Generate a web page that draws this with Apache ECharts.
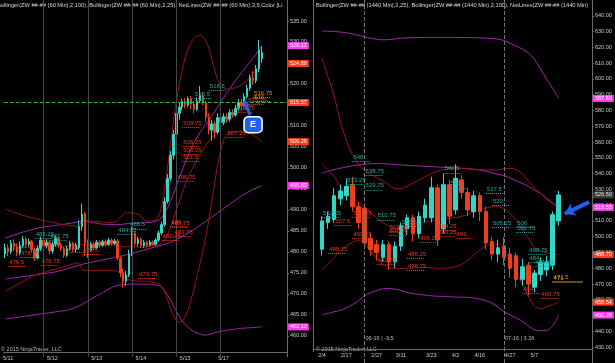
<!DOCTYPE html>
<html><head><meta charset="utf-8">
<script src="https://cdn.jsdelivr.net/npm/echarts@6.0.0/dist/echarts.min.js"></script>
<style>html,body{margin:0;padding:0;background:#000}#c{width:615px;height:363px}</style>
</head><body><div id="c"></div>
<script>
// ---------------- LEFT PANEL (60 min) ----------------
const leftTicks = ['5/11','5/12','5/13','5/14','5/15','5/17'];
const leftTickBars = [1,16,31,46,61,74];
const leftSessionBars = [13,28,43,58,73];
// [open, close, low, high]
const leftOHLC = [
[479.5,481.0,478.5,482.0],[481.0,480.0,479.0,481.8],[480.0,482.0,479.5,482.8],[482.0,481.2,480.2,483.0],[481.2,479.8,479.0,482.0],
[479.8,481.5,479.2,482.5],[481.5,483.0,481.0,483.8],[483.0,481.8,481.0,483.5],[481.8,482.5,481.2,483.2],[482.5,480.5,479.8,482.8],
[480.5,478.5,477.8,481.0],[478.5,480.8,478.2,481.5],[480.8,482.8,480.2,483.6],[482.8,481.5,481.0,483.3],[481.5,482.3,480.8,483.0],
[482.3,480.2,479.5,482.6],[480.2,481.8,479.6,482.4],[481.8,483.2,481.2,483.8],[483.2,481.6,481.0,483.5],[481.6,480.8,480.2,482.2],
[480.8,479.2,478.6,481.2],[479.2,480.8,478.8,481.4],[480.8,482.0,480.2,482.6],[482.0,480.6,480.0,482.4],[480.6,481.5,479.8,482.2],
[481.0,486.0,480.5,487.5],[486.0,489.0,485.0,491.5],[489.0,482.0,479.0,489.5],[482.0,480.5,478.5,483.0],[480.5,481.8,480.0,482.4],
[481.8,481.0,480.4,482.3],[481.0,482.3,480.6,482.8],[482.3,481.6,481.0,482.8],[481.6,482.4,481.2,482.9],[482.4,481.8,481.3,483.0],
[481.8,482.8,481.5,483.3],[482.8,482.0,481.5,483.2],[482.0,482.6,481.6,483.1],[482.6,478.5,478.0,483.0],[478.5,475.0,474.0,479.0],
[475.0,473.0,471.5,476.0],[473.0,474.5,472.0,475.5],[474.5,479.5,474.0,480.5],[479.5,484.5,479.0,486.0],[484.5,482.0,481.5,485.0],
[482.0,483.0,481.3,483.6],[483.0,481.5,481.0,483.4],[481.5,482.2,481.0,482.8],[482.2,481.6,481.2,482.6],[481.6,482.3,481.3,482.8],
[482.3,481.8,481.4,482.7],[481.8,482.8,481.5,483.3],[482.8,484.5,482.4,485.0],[484.5,486.5,484.0,487.2],[486.5,492.0,486.0,493.0],
[492.0,497.5,491.5,498.5],[497.5,503.0,496.8,504.0],[503.0,508.0,502.0,509.0],[508.0,513.0,506.5,514.0],[513.0,514.5,511.5,515.5],
[514.5,515.8,513.8,516.5],[515.8,515.0,514.2,516.6],[515.0,516.5,514.5,517.0],[516.5,515.2,514.0,517.2],[515.2,514.0,513.0,516.0],
[514.0,516.0,513.6,516.8],[516.0,517.2,515.4,519.5],[517.2,515.5,515.0,518.0],[515.5,512.0,511.0,516.0],[512.0,509.0,508.0,513.0],
[509.0,510.5,506.5,511.5],[510.5,508.5,507.0,511.2],[508.5,512.0,508.0,513.0],[512.0,510.8,510.0,513.2],[510.8,512.2,510.2,513.0],
[512.2,511.6,510.8,513.0],[511.6,513.2,511.0,514.0],[513.2,512.6,512.0,514.0],[512.6,514.2,512.2,515.0],[514.2,515.6,513.6,516.4],
[515.6,514.8,514.0,516.5],[514.8,517.0,514.3,517.8],[517.0,519.0,516.5,519.8],[519.0,521.5,518.4,522.2],[521.5,520.8,519.8,523.0],
[520.8,523.6,520.2,524.5],[523.6,528.0,522.8,530.5],[526.0,527.5,525.0,529.0]
];
const leftBB100Upper = [483.3,483.5,483.8,484.0,484.2,484.5,484.7,484.9,485.1,485.3,
485.5,485.6,485.8,485.9,486.0,486.1,486.2,486.3,486.4,486.5,
486.6,486.7,486.8,486.9,487.0,487.2,487.4,487.4,487.2,487.0,
486.9,486.8,486.7,486.6,486.6,486.5,486.5,486.5,486.5,486.5,
486.6,486.7,486.8,486.8,486.8,486.8,486.9,486.9,487.0,487.0,
487.1,487.3,487.6,488.2,489.2,490.5,492.0,493.8,495.7,497.6,
499.5,501.3,503.0,504.6,506.0,507.2,508.4,509.4,510.4,511.4,
512.4,513.4,514.5,515.6,516.7,517.8,518.8,519.8,520.8,521.7,
522.6,523.5,524.4,525.3,526.2,527.1,528.1,529.12];
const leftBB100Mid = [473.5,473.6,473.7,473.8,473.9,474.0,474.1,474.2,474.3,474.4,
474.5,474.6,474.7,474.8,474.9,475.0,475.1,475.2,475.4,475.6,
475.8,476.0,476.2,476.4,476.6,476.8,477.0,477.2,477.3,477.5,
477.6,477.8,477.9,478.1,478.2,478.4,478.5,478.7,478.8,479.0,
479.1,479.3,479.4,479.6,479.8,480.0,480.2,480.4,480.6,480.8,
481.0,481.2,481.4,481.6,481.8,482.0,482.3,482.6,482.9,483.3,
483.7,484.1,484.5,484.9,485.3,485.8,486.3,486.8,487.3,487.8,
488.3,488.8,489.3,489.8,490.3,490.8,491.3,491.8,492.3,492.8,
493.3,493.7,494.1,494.5,494.9,495.2,495.5,495.82];
const leftBB100Lower = [464.0,464.1,464.2,464.3,464.4,464.5,464.6,464.7,464.8,464.9,
465.0,465.1,465.2,465.3,465.4,465.5,465.6,465.7,465.8,465.9,
466.0,466.1,466.3,466.5,466.8,467.1,467.5,467.9,468.3,468.7,
469.1,469.5,469.9,470.3,470.7,471.1,471.5,471.8,472.0,472.1,
472.2,472.2,472.3,472.3,472.3,472.3,472.3,472.3,472.3,472.3,
472.2,472.1,472.0,471.6,470.8,469.8,468.6,467.2,465.8,464.6,
463.5,462.7,462.0,461.4,461.0,460.7,460.4,460.2,460.2,460.3,
460.5,460.7,460.9,461.1,461.2,461.3,461.4,461.5,461.6,461.7,
461.8,461.8,461.9,461.9,462.0,462.0,462.1,462.12];
const leftBB25Upper = [490.2,489.9,489.7,489.4,489.2,488.9,488.7,488.5,488.3,488.1,
488.0,487.8,487.6,487.5,487.3,487.2,487.0,486.9,486.8,486.6,
486.5,486.4,486.3,486.2,486.1,486.0,487.6,487.6,487.5,487.4,
487.3,487.2,487.2,487.1,487.1,487.0,487.0,487.1,487.5,488.3,
489.0,489.3,489.3,489.3,489.2,489.0,488.4,487.6,487.3,487.3,
487.4,487.6,488.5,491.0,495.0,500.0,505.5,511.0,515.8,520.0,
523.5,526.3,528.4,529.9,530.9,531.4,531.6,531.3,530.3,528.5,
526.0,523.2,521.0,519.6,519.0,518.8,518.8,518.9,519.1,519.4,
519.8,520.3,520.9,521.6,522.4,523.3,524.0,524.88];
const leftBB25Mid = [480.4,480.5,480.6,480.7,480.8,480.9,481.0,481.0,481.1,481.1,
481.2,481.2,481.2,481.3,481.3,481.3,481.3,481.4,481.4,481.4,
481.4,481.4,481.5,481.5,481.6,481.7,481.8,481.8,481.7,481.6,
481.6,481.6,481.6,481.6,481.6,481.6,481.6,481.5,481.4,481.3,
481.2,481.2,481.2,481.2,481.2,481.1,481.0,481.1,481.2,481.3,
481.4,481.5,481.7,482.1,482.9,484.2,485.9,487.9,490.0,492.1,
494.1,496.0,497.7,499.2,500.6,501.9,503.1,504.3,505.4,506.4,
507.3,508.1,508.9,509.6,510.3,511.0,511.6,512.2,512.7,513.2,
513.6,514.0,514.3,514.6,514.9,515.1,515.3,515.57];
const leftBB25Lower = [470.6,471.0,471.4,471.8,472.2,472.6,473.0,473.4,473.8,474.1,
474.4,474.7,474.9,475.1,475.3,475.5,475.7,475.9,476.1,476.3,
476.5,476.7,476.9,477.1,477.3,477.4,475.8,475.6,475.6,475.6,
475.6,475.6,475.6,475.6,475.6,475.6,475.6,475.5,475.4,475.0,
474.2,473.6,473.3,473.2,473.1,473.0,473.0,473.0,473.0,472.9,
472.8,472.7,472.5,471.8,470.5,468.6,466.5,464.8,463.7,463.2,
463.5,464.6,466.4,468.7,471.3,474.2,477.2,480.2,483.6,487.6,
492.0,496.5,500.8,504.2,506.6,507.8,508.3,508.5,508.6,508.6,
508.6,508.5,508.4,508.2,507.9,507.4,506.8,506.26];
// [bar, price, text]
const leftRedNotes = [[60,509.75,'509.75'],[60,505.25,'505.25'],[60,503.25,'503.25'],[60,501.5,'501.5'],[58,496.75,'496.75'],
[75,507.25,'507.25'],[56,486,'486'],[56,485.75,'485.75'],[57,483.75,'483.75'],[53,482.75,'482.75'],[45,473.75,'473.75'],
[12,476.75,'476.75'],[1,476.5,'476.5'],[5,478.75,'478.75'],[21,480,'480'],[26,479.5,'479.5'],[82,515.25,'515.25'],[78,513.25,'513.25']];
const leftTealNotes = [[10,483.25,'483.25'],[15,482.75,'482.75'],[42,485.5,'485.5'],[38,484.25,'484.25'],[64,516.5,'516.5'],[69,518.5,'518.5']];
const leftOrangeNotes = [[84,516.75,'516.75'],[84,515.9,'516']];
const leftMarker = {bar:84, price:510.3, text:'E'};
const leftArrow = {fromBar:83, fromPrice:512.55, toBar:81, toPrice:515.95};
const leftCurrent = 515.57;

// ---------------- RIGHT PANEL (1440 min) ----------------
const rightTicks = ['2/4','2/17','2/27','3/11','3/23','4/2','4/16','4/27','5/7'];
const rightTickBars = [1,5,10,14,19,23,27,32,36];
const rightSessionBars = [8,31];
const rightSessionNotes = ['06-16 | -3.5','07-16 | 3.26'];
const rightOHLC = [ // bars 1..40
[492,510,488,513],[509,513,505,516],[511,526,509,531],[524,529,520,533],[526,532,523,537],
[533,519,516,538],[519,509,505,522],[518,496,493,521],[499,492,488,502],[495,490,485,498],
[487,495,484,498],[495,484,479,497],[484,494,480,497],[494,507,491,509],[505,512,501,514],
[512,502,497,514],[502,513,499,516],[512,520,509,524],[512,531,509,538],[531,498,494,533],
[505,533,502,540],[533,513,508,536],[517,537,514,546],[536,528,524,539],[528,517,513,531],
[516,526,512,529],[526,516,510,528],[516,496,492,519],[497,489,485,500],[489,493,484,498],
[494,487,482,500],[489,480,474,493],[488,473,468,490],[473,481,469,486],[482,470,463,484],
[468,477,465,479],[476,484,472,487],[479,484,475,488],[482,514,479,516],[510,526.5,507,529]
];
const rightBB100Upper = [630.3,630.2,630.0,629.7,629.2,628.5,627.6,626.6,625.8,625.2,624.8,624.9,625.3,625.8,626.0,626.1,626.2,626.3,626.3,626.3,
626.3,626.3,626.3,626.2,626.2,626.1,626.0,625.8,625.6,625.2,624.3,622.5,620.8,619.0,616.5,612.5,606.5,600.0,594.0,587.6];
const rightBB100Mid = [540.5,541.5,542.5,543.4,544.2,545.0,545.6,546.0,546.3,546.4,546.3,546.1,545.8,545.5,545.2,545.0,544.8,544.6,544.4,544.2,
544.0,543.8,543.6,543.4,543.1,542.7,542.2,541.5,540.6,539.5,538.8,537.2,535.5,533.8,532.0,529.5,527.5,524.5,521.5,518.55];
const rightBB100Lower = [450.7,451.5,452.5,453.3,455.0,457.0,459.5,462.5,464.5,466.0,467.0,467.2,466.8,466.0,464.8,464.0,463.5,463.0,462.6,462.3,
462.2,462.0,461.8,461.7,461.6,461.2,460.5,459.5,458.0,455.5,452.5,450.5,448.5,446.5,443.5,441.0,440.4,440.6,443.5,450.36];
const rightBB25Upper = [613,601,589,573,561,552,546,542,539.5,537.5,535.5,533,530.5,530.5,532,534,536,538,540,541.5,
542.5,543,543.2,543.2,543,542.8,542.5,542.3,542.3,542.5,543,543.3,542.5,540,535.5,531,527.5,524,521,518.86];
const rightBB25Mid = [546,542,538,532,527.5,524.3,521.8,519,515.3,511.8,509,506.8,505.3,505.3,506,507.1,508.3,509.3,510.2,510.8,
511.3,511.7,512.1,512.9,514,515.7,517,518.2,518.9,519,517.8,514.7,510.3,505,499,493.5,491,489.8,489,488.7];
const rightBB25Lower = [479,483,487,491,494,496.5,497.5,496,491,486,482.5,480.5,480,480,480,480.2,480.5,480.5,480.3,480,
480,480.3,481,482.5,485,488.5,491.5,494,495.5,495.5,492.5,486,478,470,462.5,456,454.5,455.5,457,458.54];
const rightTealNotes = [[6,548,'548'],[8,538.75,'538.75'],[8,529.75,'529.75'],[5,533.25,'533.25'],[21,540.5,'540.5'],[22,531,'531'],
[28,527.5,'527.5'],[29,520,'520'],[29,506.25,'506.25'],[33,506,'506'],[33,502.75,'502.75'],[10,510.75,'510.75'],[14,506.5,'506.5'],
[1,512.25,'512.25'],[35,488.75,'488.75'],[35,484,'484'],[36,481.25,'481.25']];
const rightRedNotes = [[3,507.5,'507.5'],[6,512.25,'512.25'],[12,503.25,'503.25'],[12,500.75,'500.75'],[6,499.25,'499.25'],
[20,504.25,'504.25'],[20,500.25,'500.25'],[17,496.25,'496.25'],[23,499,'499'],[2,489.75,'489.75'],[10,482.75,'482.75'],
[15,486.25,'486.25'],[15,478.75,'478.75'],[34,464,'464'],[37,460.75,'460.75']];
const rightOrangeNotes = [[39,471.5,'471.5'],[39,471,'471']];
const rightArrow = {fromBar:45, fromPrice:521.9, toBar:41, toPrice:514.6};

// ---------------- styles / building ----------------
const FONT = 'Liberation Sans, Arial, sans-serif';
const UP = '#35d6c6', DOWN = '#ee3f1c';
const RED_LINE = '#9c1414', MAG_LINE = '#a424b0';
const RED_TXT = '#e8381a', TEAL_TXT = '#20a8a4', ORANGE_TXT = '#e89000';
const MAG_BOX = '#ff3cf0', RED_BOX = '#ff3a1a';
const AX = '#6a6a6a', TXT = '#c8c8c8';

const leftCats = leftOHLC.map((_, i) => 'L' + i).concat(Array.from({length: 8}, (_, i) => 'Lx' + i));
const rightCats = ['R0'].concat(rightOHLC.map((_, i) => 'R' + (i + 1))).concat(Array.from({length: 5}, (_, i) => 'Rx' + i));
const pad = a => ['-'].concat(a);

function notes(arr, color, span) {
  return arr.map(n => [
    {coord: [n[0], n[1]], symbol: 'none', lineStyle: {color: color, type: 'dotted', width: 1},
     label: {show: true, position: 'insideStartTop', formatter: n[2], color: color, fontSize: 6, distance: 1}},
    {coord: [Math.min(n[0] + span, 200), n[1]], symbol: 'none'}
  ]);
}
function box(v, bg, fg) {
  return {yAxis: v, lineStyle: {color: 'rgba(0,0,0,0)', width: 1, opacity: 1}, label: {show: true, position: 'end', formatter: v.toFixed(2),
    backgroundColor: bg, color: fg || '#fff', fontSize: 5.5, padding: [1, 2, 0, 2], distance: 1, opacity: 1}};
}
function vline(b, dashed) {
  return {xAxis: b, lineStyle: {color: dashed ? '#777' : '#474747', type: dashed ? 'dashed' : 'solid', width: 1}, label: {show: false}};
}
function arrow(a, w, s) {
  return [{coord: [a.fromBar, a.fromPrice], symbol: 'none', lineStyle: {color: '#1f5ff2', width: w, type: 'solid'}, label: {show: false}},
          {coord: [a.toBar, a.toPrice], symbol: 'arrow', symbolSize: s}];
}
function line(name, data, color, xi) {
  return {name: name, type: 'line', xAxisIndex: xi, yAxisIndex: xi, data: data, showSymbol: false, smooth: 0.3,
    lineStyle: {color: color, width: 1}, z: 2, silent: true};
}

const lastLeft = a => a[a.length - 1];
const rightLastClose = rightOHLC[rightOHLC.length - 1][1];

const option = {
  backgroundColor: '#000', animation: false,
  textStyle: {fontFamily: FONT},
  grid: [
    {left: 0, width: 287, top: -18.05, height: 374.85},
    {left: 313, width: 279, top: -12.43, height: 377.86}
  ],
  xAxis: [
    {type: 'category', gridIndex: 0, data: leftCats, offset: -4.8,
     axisLine: {show: true, lineStyle: {color: AX}}, axisTick: {show: false}, splitLine: {show: false},
     axisLabel: {color: TXT, fontSize: 5.5, margin: 3, interval: (i) => leftTickBars.indexOf(i) >= 0,
       formatter: (v, i) => leftTicks[leftTickBars.indexOf(i)] || ''}},
    {type: 'category', gridIndex: 1, data: rightCats, offset: -13.43,
     axisLine: {show: true, lineStyle: {color: AX}}, axisTick: {show: false}, splitLine: {show: false},
     axisLabel: {color: TXT, fontSize: 5.5, margin: 3, interval: (i) => rightTickBars.indexOf(i) >= 0,
       formatter: (v, i) => rightTicks[rightTickBars.indexOf(i)] || ''}}
  ],
  yAxis: [
    {type: 'value', gridIndex: 0, position: 'right', min: 455, max: 540, interval: 5, scale: true,
     axisLine: {show: true, lineStyle: {color: AX}}, axisTick: {show: true, length: 2, lineStyle: {color: AX}},
     splitLine: {show: false},
     axisLabel: {color: TXT, fontSize: 5.5, margin: 3, showMinLabel: false, showMaxLabel: false, formatter: v => v.toFixed(2)}},
    {type: 'value', gridIndex: 1, position: 'right', min: 420, max: 650, interval: 10, scale: true,
     axisLine: {show: true, lineStyle: {color: AX}}, axisTick: {show: true, length: 2, lineStyle: {color: AX}},
     splitLine: {show: false},
     axisLabel: {color: TXT, fontSize: 5.5, margin: 3, showMinLabel: false, showMaxLabel: false, formatter: v => v.toFixed(2)}}
  ],
  series: [
    line('L BB100 U', leftBB100Upper, MAG_LINE, 0),
    line('L BB100 M', leftBB100Mid, MAG_LINE, 0),
    line('L BB100 L', leftBB100Lower, MAG_LINE, 0),
    line('L BB25 U', leftBB25Upper, RED_LINE, 0),
    line('L BB25 M', leftBB25Mid, RED_LINE, 0),
    line('L BB25 L', leftBB25Lower, RED_LINE, 0),
    {name: 'Left', type: 'candlestick', xAxisIndex: 0, yAxisIndex: 0, data: leftOHLC, barWidth: 2, z: 3, silent: true,
     itemStyle: {color: UP, color0: DOWN, borderColor: UP, borderColor0: DOWN, borderWidth: 1},
     markLine: {silent: true, symbol: ['none', 'none'], animation: false, precision: 2,
       data: [].concat(
         leftSessionBars.map(b => vline(b, false)),
         notes(leftRedNotes, RED_TXT, 6), notes(leftTealNotes, TEAL_TXT, 6), notes(leftOrangeNotes, ORANGE_TXT, 6),
         [{yAxis: leftCurrent, lineStyle: {color: '#3fae3a', type: 'dashed', width: 1},
           label: {show: true, position: 'end', formatter: leftCurrent.toFixed(2), backgroundColor: RED_BOX, color: '#fff', fontSize: 5.5, padding: [1, 2, 0, 2], distance: 1}}],
         [box(lastLeft(leftBB100Upper), MAG_BOX), box(lastLeft(leftBB25Upper), RED_BOX), box(lastLeft(leftBB25Lower), RED_BOX),
          box(lastLeft(leftBB100Mid), MAG_BOX), box(lastLeft(leftBB100Lower), MAG_BOX)],
         [arrow(leftArrow, 3, 7)]
       )},
     markPoint: {silent: true, animation: false, data: [
       {coord: [leftMarker.bar, leftMarker.price], symbol: 'roundRect', symbolSize: [18, 16],
        itemStyle: {color: '#1f5ff2', borderColor: '#ffffff', borderWidth: 1.5},
        label: {show: true, formatter: leftMarker.text, color: '#fff', fontSize: 9, fontWeight: 'bold'}}
     ]}},

    line('R BB100 U', pad(rightBB100Upper), MAG_LINE, 1),
    line('R BB100 M', pad(rightBB100Mid), MAG_LINE, 1),
    line('R BB100 L', pad(rightBB100Lower), MAG_LINE, 1),
    line('R BB25 U', pad(rightBB25Upper), RED_LINE, 1),
    line('R BB25 M', pad(rightBB25Mid), RED_LINE, 1),
    line('R BB25 L', pad(rightBB25Lower), RED_LINE, 1),
    {name: 'Right', type: 'candlestick', xAxisIndex: 1, yAxisIndex: 1, data: [['-', '-', '-', '-']].concat(rightOHLC),
     barWidth: 4, z: 3, silent: true,
     itemStyle: {color: UP, color0: DOWN, borderColor: UP, borderColor0: DOWN, borderWidth: 1},
     markLine: {silent: true, symbol: ['none', 'none'], animation: false, precision: 2,
       data: [].concat(
         rightSessionBars.map(b => vline(b, true)),
         notes(rightTealNotes, TEAL_TXT, 3), notes(rightRedNotes, RED_TXT, 3), notes(rightOrangeNotes, ORANGE_TXT, 5),
         [box(lastLeft(rightBB100Upper), MAG_BOX), box(rightLastClose, '#3c3c3c', '#e0e0e0'), box(lastLeft(rightBB100Mid), MAG_BOX),
          box(lastLeft(rightBB25Mid), RED_BOX), box(lastLeft(rightBB25Lower), RED_BOX), box(lastLeft(rightBB100Lower), MAG_BOX)],
         [arrow(rightArrow, 4, 10)]
       )},
     markPoint: {silent: true, animation: false, data: rightSessionBars.map((b, k) => ({
       coord: [b, 435.5], symbol: 'circle', symbolSize: 0,
       label: {show: true, position: 'right', distance: 1, formatter: rightSessionNotes[k], color: '#bdbdbd', fontSize: 5.5}}))}}
  ],
  graphic: [
    {type: 'line', shape: {x1: 313.5, y1: 0, x2: 313.5, y2: 352}, style: {stroke: AX, lineWidth: 1}, silent: true},
    {type: 'text', x: -3, y: 2, silent: true, style: {text: 'Bollinger(ZW ##-## (60 Min),2,100), Bollinger(ZW ##-## (60 Min),2,25), NetLines(ZW ##-## (60 Min),3,5,Color [Lime],Color [Lime],Color [Red])',
      fill: '#d8d8d8', fontSize: 5.7, fontFamily: FONT, width: 289, overflow: 'truncate', ellipsis: ''}},
    {type: 'text', x: 316, y: 2, silent: true, style: {text: 'Bollinger(ZW ##-## (1440 Min),2,25), Bollinger(ZW ##-## (1440 Min),2,100), NetLines(ZW ##-## (1440 Min),3,5,Color [Lime],Color [Red])',
      fill: '#d8d8d8', fontSize: 5.7, fontFamily: FONT, width: 275, overflow: 'truncate', ellipsis: ''}},
    {type: 'text', x: 1, y: 346, silent: true, style: {text: '© 2015 NinjaTrader, LLC', fill: '#b8b8b8', fontSize: 5.5, fontFamily: FONT}},
    {type: 'text', x: 316, y: 346, silent: true, style: {text: '© 2015 NinjaTrader, LLC', fill: '#b8b8b8', fontSize: 5.5, fontFamily: FONT}}
  ]
};
const chart = echarts.init(document.getElementById('c'), null, {renderer: 'canvas'});
chart.setOption(option);
</script></body></html>
